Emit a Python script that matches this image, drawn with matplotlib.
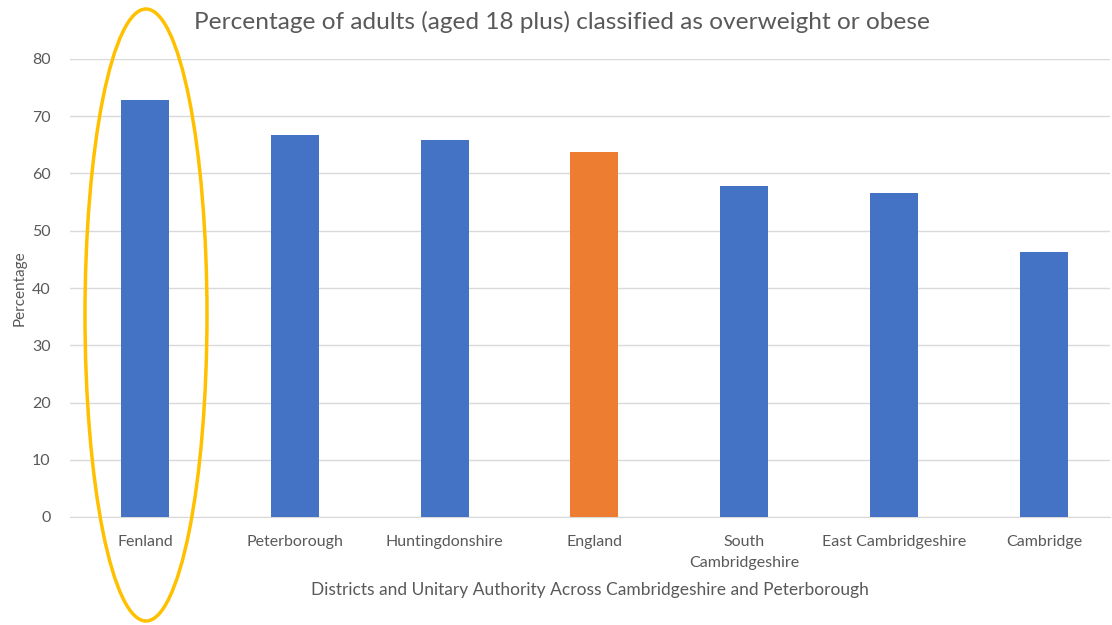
import matplotlib
matplotlib.use("Agg")
import matplotlib.pyplot as plt
from matplotlib.patches import Ellipse

plt.rcParams['font.family'] = ['Lato', 'DejaVu Sans']

areas = ["Fenland", "Peterborough", "Huntingdonshire", "England",
         "South\nCambridgeshire", "East Cambridgeshire", "Cambridge"]
pct = [72.8, 66.7, 65.9, 63.7, 57.9, 56.6, 46.3]
bar_colors = ["#4472C4", "#4472C4", "#4472C4", "#ED7D31",
              "#4472C4", "#4472C4", "#4472C4"]
yticks = [0, 10, 20, 30, 40, 50, 60, 70, 80]

fig = plt.figure(figsize=(11.12, 6.25), dpi=100)
ax = fig.add_axes([0.063, 0.1728, 0.935, 0.7328])

x = range(len(areas))
ax.bar(x, pct, width=0.32, color=bar_colors, zorder=3)

ax.set_xlim(-0.5, 6.44)
ax.set_ylim(0, 80)
ax.set_yticks(yticks)
ax.set_xticks(list(x))
ax.set_xticklabels(areas, linespacing=1.6)
ax.grid(axis="y", color="#D9D9D9", linewidth=1, zorder=0)
for s in ["top", "right", "left"]:
    ax.spines[s].set_visible(False)
ax.spines["bottom"].set_color("#D9D9D9")
ax.tick_params(axis="both", length=0, colors="#595959", labelsize=11.5)
ax.tick_params(axis="x", pad=13)
ax.tick_params(axis="y", pad=14)

ax.set_xlabel("Districts and Unitary Authority Across Cambridgeshire and Peterborough",
              fontsize=12.5, color="#595959", labelpad=9)
ax.set_ylabel("Percentage", fontsize=11, color="#595959", labelpad=4)
fig.text(0.505, 0.965, "Percentage of adults (aged 18 plus) classified as overweight or obese",
         ha="center", va="center", fontsize=17.6, color="#595959")

# highlight ring around Fenland
ring = Ellipse((146 / 1112, 1 - 315 / 625), 122 / 1112, 612 / 625,
               transform=fig.transFigure, fill=False, edgecolor="#FFC000",
               linewidth=2.5, zorder=10)
fig.patches.append(ring)

fig.savefig("out.png", dpi=100)
